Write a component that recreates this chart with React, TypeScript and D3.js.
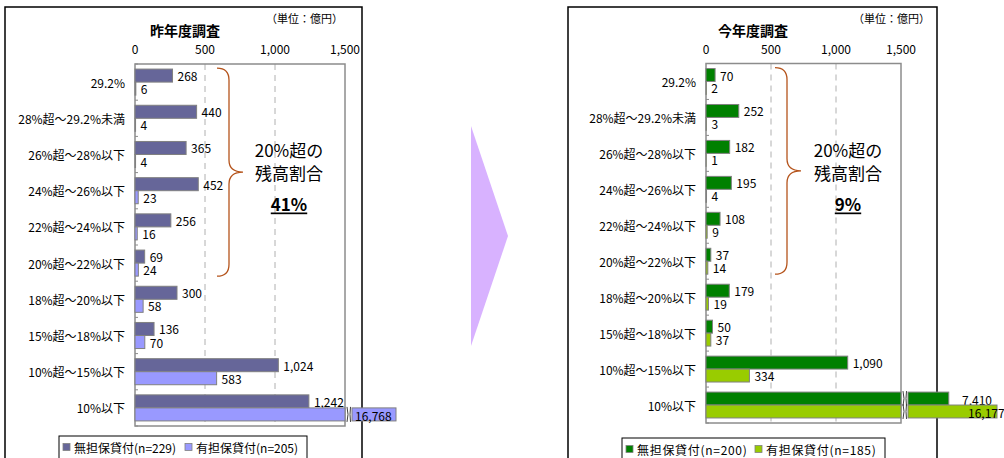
import React from "react";
import * as d3 from "d3";

// ---------- data ----------
const categories = [
  "29.2%",
  "28%超～29.2%未満",
  "26%超～28%以下",
  "24%超～26%以下",
  "22%超～24%以下",
  "20%超～22%以下",
  "18%超～20%以下",
  "15%超～18%以下",
  "10%超～15%以下",
  "10%以下",
];
const lastYearUnsecured = [268, 440, 365, 452, 256, 69, 300, 136, 1024, 1242];
const lastYearSecured = [6, 4, 4, 23, 16, 24, 58, 70, 583, 16768];
const thisYearUnsecured = [70, 252, 182, 195, 108, 37, 179, 50, 1090, 7410];
const thisYearSecured = [2, 3, 1, 4, 9, 14, 19, 37, 334, 16177];
const tickValues = [0, 500, 1000, 1500];
const panelTitles = ["昨年度調査", "今年度調査"];
const unitLabel = "（単位：億円）";
const legendLastYear = ["無担保貸付(n=229)", "有担保貸付(n=205)"];
const legendThisYear = ["無担保貸付(n=200)", "有担保貸付(n=185)"];
const noteLines = ["20%超の", "残高割合"];
const shareLastYear = "41%";
const shareThisYear = "9%";
const bracedCount = 6; // categories above 20%
const axisMax = 1500;

const FONT = "'Noto Sans CJK JP', 'Noto Sans', sans-serif";
const fmt = d3.format(",");

type PanelCfg = {
  title: string;
  series: number[][];
  colors: string[];
  legend: string[];
  share: string;
  frame: [number, number];
  plot: { left: number; right: number; top: number; bottom: number };
  titleX: number;
  unitX: number;
  braceX: number;
  noteX: number;
  legendBox: { x: number; y: number; w: number; items: number[]; spacing: number };
  stubMax: number;
  brokenLabelDx: number[];
};

const panels: PanelCfg[] = [
  {
    title: panelTitles[0],
    series: [lastYearUnsecured, lastYearSecured],
    colors: ["#666699", "#9999ff"],
    legend: legendLastYear,
    share: shareLastYear,
    frame: [5, 362],
    plot: { left: 135, right: 345, top: 64, bottom: 426 },
    titleX: 185,
    unitX: 343,
    braceX: 217,
    noteX: 289,
    legendBox: { x: 59, y: 436, w: 248, items: [4, 126], spacing: 0 },
    stubMax: 44,
    brokenLabelDx: [10, 10],
  },
  {
    title: panelTitles[1],
    series: [thisYearUnsecured, thisYearSecured],
    colors: ["#008000", "#99cc00"],
    legend: legendThisYear,
    share: shareThisYear,
    frame: [568, 937],
    plot: { left: 706, right: 901, top: 63.5, bottom: 423 },
    titleX: 753,
    unitX: 930,
    braceX: 775,
    noteX: 848,
    legendBox: { x: 622, y: 438, w: 263, items: [4, 133], spacing: 0.7 },
    stubMax: 89,
    brokenLabelDx: [61, 67],
  },
];

function Panel({ cfg }: { cfg: PanelCfg }) {
  const { plot } = cfg;
  const x = d3.scaleLinear().domain([0, axisMax]).range([plot.left, plot.right]);
  const y = d3
    .scaleBand<string>()
    .domain(categories)
    .range([plot.top, plot.bottom])
    .paddingInner(0.28)
    .paddingOuter(0.14);
  const inner = d3
    .scaleBand<number>()
    .domain(d3.range(cfg.series.length))
    .range([0, y.bandwidth()]);
  const maxVal = d3.max(cfg.series.flat()) as number;
  const stub = d3.scaleLinear().domain([0, maxVal]).range([0, cfg.stubMax]);
  const stubStart = plot.right + 7;
  const step = y.step();

  const braceTop = (y(categories[0]) as number) - 1;
  const braceBottom = (y(categories[bracedCount - 1]) as number) + y.bandwidth();
  const braceMid = (braceTop + braceBottom) / 2;
  const bx = cfg.braceX;
  const bv = bx + 12;
  const bt = bx + 26;
  const bracePath = `M${bx},${braceTop} Q${bv},${braceTop} ${bv},${braceTop + 12} L${bv},${braceMid - 12} Q${bv},${braceMid} ${bt},${braceMid} Q${bv},${braceMid} ${bv},${braceMid + 12} L${bv},${braceBottom - 12} Q${bv},${braceBottom} ${bx},${braceBottom}`;

  return (
    <g>
      {/* frame */}
      <path
        d={`M${cfg.frame[0]},470 L${cfg.frame[0]},7 L${cfg.frame[1]},7 L${cfg.frame[1]},470`}
        fill="none"
        stroke="#000"
        strokeWidth={1.5}
      />
      <text x={cfg.titleX} y={30} textAnchor="middle" dominantBaseline="central" fontFamily={FONT} fontSize={14} fontWeight="bold">
        {cfg.title}
      </text>
      <text x={cfg.unitX} y={18} textAnchor="end" dominantBaseline="central" fontFamily={FONT} fontSize={11}>
        {unitLabel}
      </text>
      {/* tick labels */}
      {tickValues.map((t) => (
        <text key={t} x={x(t)} y={48} textAnchor="middle" dominantBaseline="central" fontFamily={FONT} fontSize={12}>
          {fmt(t)}
        </text>
      ))}
      {/* gridlines */}
      {tickValues.slice(1, -1).map((t) => (
        <line key={t} x1={x(t)} x2={x(t)} y1={plot.top} y2={plot.bottom} stroke="#b0b0b0" strokeDasharray="6,5" />
      ))}
      {/* plot border */}
      <rect x={plot.left} y={plot.top} width={plot.right - plot.left} height={plot.bottom - plot.top} fill="none" stroke="#8c8c8c" strokeWidth={1.5} />
      {/* category ticks */}
      {d3.range(categories.length + 1).map((i) => (
        <line key={i} x1={plot.left} x2={plot.left + 3} y1={plot.top + i * step} y2={plot.top + i * step} stroke="#8c8c8c" />
      ))}
      {/* category labels */}
      {categories.map((c) => (
        <text key={c} x={plot.left - 10} y={(y(c) as number) + y.bandwidth() / 2} textAnchor="end" dominantBaseline="central" fontFamily={FONT} fontSize={12}>
          {c}
        </text>
      ))}
      {/* bars */}
      {cfg.series.map((vals, si) =>
        vals.map((v, ci) => {
          const by = (y(categories[ci]) as number) + (inner(si) as number);
          const bh = inner.bandwidth();
          const broken = v > axisMax;
          const w = x(Math.min(v, axisMax)) - plot.left;
          return (
            <g key={`${si}-${ci}`}>
              <rect x={plot.left} y={by} width={w} height={bh} fill={cfg.colors[si]} stroke="#808080" strokeWidth={1} />
              {broken ? (
                <>
                  <path
                    d={`M${plot.right + 2},${by - 1} q2,${bh / 2 + 1} 0,${bh + 2} M${plot.right + 5.5},${by - 1} q-1,${bh / 2 + 1} 0,${bh + 2}`}
                    fill="none"
                    stroke="#404040"
                    strokeWidth={1}
                  />
                  <rect x={stubStart} y={by} width={stub(v)} height={bh} fill={cfg.colors[si]} stroke="#808080" strokeWidth={1} />
                  <text x={plot.right + cfg.brokenLabelDx[si]} y={by + bh / 2 + 1} dominantBaseline="central" fontFamily={FONT} fontSize={12}>
                    {fmt(v)}
                  </text>
                </>
              ) : (
                <text x={x(v) + 5} y={by + bh / 2} dominantBaseline="central" fontFamily={FONT} fontSize={12}>
                  {fmt(v)}
                </text>
              )}
            </g>
          );
        })
      )}
      {/* brace + note */}
      <path d={bracePath} fill="none" stroke="#b5541c" strokeWidth={1.3} />
      {noteLines.map((l, i) => (
        <text key={l} x={cfg.noteX} y={149 + i * 23} textAnchor="middle" dominantBaseline="central" fontFamily={FONT} fontSize={17}>
          {l}
        </text>
      ))}
      <text x={cfg.noteX} y={203} textAnchor="middle" dominantBaseline="central" fontFamily={FONT} fontSize={17} fontWeight="bold" textDecoration="underline" style={{ textDecoration: "underline" }}>
        {cfg.share}
      </text>
      {/* legend */}
      <rect x={cfg.legendBox.x} y={cfg.legendBox.y} width={cfg.legendBox.w} height={24} fill="#fff" stroke="#000" strokeWidth={1} />
      {cfg.legend.map((l, i) => {
        const lx = cfg.legendBox.x + cfg.legendBox.items[i];
        const ly = cfg.legendBox.y + 11;
        return (
          <g key={l}>
            <rect x={lx} y={ly - 3.5} width={7} height={7} fill={cfg.colors[i]} stroke="#808080" strokeWidth={0.8} />
            <text x={lx + 11} y={ly} dominantBaseline="central" fontFamily={FONT} fontSize={12} letterSpacing={cfg.legendBox.spacing}>
              {l}
            </text>
          </g>
        );
      })}
    </g>
  );
}

export default function App() {
  const arrow = d3.line()([
    [471, 126],
    [508, 236],
    [471, 346],
  ]) + "Z";
  return (
    <svg width={1004} height={458} style={{ position: "absolute", left: 0, top: 0, background: "#fff" }}>
      <rect width={1004} height={458} fill="#fff" />
      <path d={arrow} fill="#d8b2ff" />
      {panels.map((p, i) => (
        <Panel key={i} cfg={p} />
      ))}
    </svg>
  );
}
